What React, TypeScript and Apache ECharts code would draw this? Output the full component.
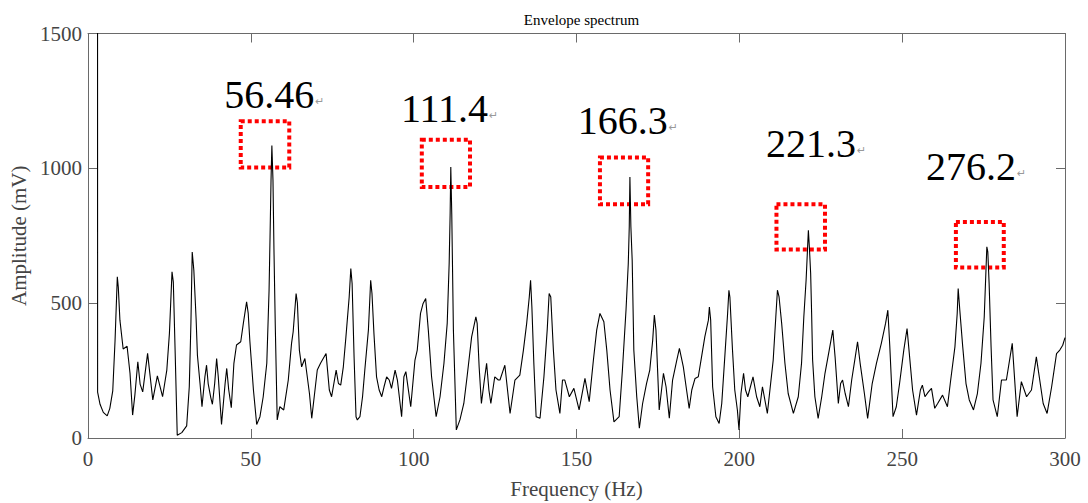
import React, { useEffect, useRef } from "react";
import * as echarts from "echarts";

// Frequency (Hz) and amplitude (mV)
const freq: number[] = [
  2.9, 2.95, 3.7, 4.7, 5.9, 6.7, 7.6, 8.3, 9.0, 9.3, 9.8, 10.8, 12.0, 12.9, 13.7, 14.4, 15.3, 16.0, 16.8, 18.3,
  19.9, 21.3, 22.9, 24.2, 25.0, 25.8, 26.2, 26.8, 27.4, 28.8, 30.3, 31.1, 31.6, 32.0, 32.5, 33.2, 33.6, 34.4, 35.0, 35.9,
  36.4, 36.9, 37.7, 38.2, 38.9, 39.5, 40.0, 41.0, 42.1, 42.6, 43.2, 44.0, 44.8, 45.6, 46.9, 47.7, 48.7, 49.2, 49.7, 50.8,
  51.8, 52.8, 53.8, 54.9, 55.6, 55.9, 56.2, 56.46, 56.8, 57.1, 57.5, 58.1, 58.9, 60.1, 61.5, 62.5, 63.0, 63.9, 64.3, 64.9,
  65.6, 66.6, 68.0, 68.7, 69.7, 70.4, 71.4, 73.1, 74.1, 74.8, 76.2, 76.9, 77.6, 78.4, 79.2, 80.2, 80.7, 81.1, 81.7, 82.3,
  82.7, 83.5, 84.3, 85.0, 86.1, 86.8, 87.2, 87.8, 88.6, 89.4, 90.2, 90.9, 91.7, 92.5, 93.2, 94.3, 95.0, 96.3, 97.0, 97.6,
  99.1, 100.4, 101.1, 102.1, 102.9, 103.7, 104.5, 105.5, 106.9, 108.1, 109.3, 110.3, 110.9, 111.2, 111.4, 111.7, 112.2, 113.1, 114.2, 115.4,
  116.4, 117.8, 119.1, 119.5, 120.1, 120.8, 121.7, 122.4, 123.1, 123.7, 124.9, 126.0, 126.5, 128.0, 129.6, 131.1, 132.6, 133.7, 134.7, 135.5,
  135.9, 136.3, 136.9, 137.6, 138.8, 140.0, 141.0, 141.6, 142.1, 142.9, 143.7, 144.9, 145.7, 146.4, 147.8, 149.2, 150.8, 152.6, 153.9, 155.2,
  156.2, 157.2, 158.4, 159.3, 160.3, 161.5, 163.1, 164.1, 165.2, 165.9, 166.2, 166.4, 166.7, 167.1, 167.6, 168.5, 169.3, 170.3, 171.5, 172.5,
  173.4, 173.9, 174.4, 175.4, 176.7, 177.5, 178.5, 179.5, 180.8, 181.6, 182.8, 183.8, 184.6, 185.4, 186.4, 187.4, 188.4, 189.4, 190.5, 190.8,
  191.2, 191.8, 192.8, 193.8, 194.6, 195.6, 196.4, 196.8, 197.1, 197.9, 198.6, 199.4, 199.9, 200.5, 201.3, 201.9, 202.6, 204.2, 205.3, 206.3,
  207.1, 208.6, 210.4, 211.2, 211.7, 212.2, 213.0, 214.0, 215.0, 216.6, 218.1, 219.1, 219.8, 220.5, 221.2, 221.5, 221.9, 222.2, 222.5, 223.2,
  224.2, 225.3, 226.3, 227.6, 228.7, 229.4, 230.4, 231.1, 231.7, 232.5, 233.5, 234.5, 235.6, 236.3, 237.1, 238.4, 239.4, 240.8, 242.1, 243.6,
  244.9, 245.6, 246.2, 247.2, 248.2, 249.2, 250.5, 251.5, 252.1, 253.2, 254.4, 255.6, 256.2, 257.0, 258.0, 259.0, 260.0, 260.9, 262.4, 263.9,
  264.9, 266.2, 266.9, 267.2, 267.7, 268.6, 269.6, 270.6, 271.9, 273.1, 274.2, 275.2, 276.0, 276.3, 276.7, 277.3, 277.9, 279.2, 280.5, 282.0,
  283.8, 285.3, 286.6, 288.2, 289.7, 291.2, 293.3, 294.5, 295.9, 297.4, 298.4, 299.3, 300.0,
];

const amplitude: number[] = [
  4000, 170, 125, 95, 82, 110, 175, 360, 598, 560, 437, 330, 340, 240, 85, 160, 283, 200, 171, 314,
  141, 230, 153, 252, 388, 616, 578, 300, 10, 20, 45, 190, 425, 690, 622, 440, 307, 202, 116, 227,
  270, 202, 150, 125, 202, 295, 227, 50, 202, 258, 180, 112, 277, 345, 357, 425, 505, 462, 360, 178,
  50, 79, 153, 277, 548, 746, 956, 1085, 956, 700, 420, 67, 116, 104, 215, 351, 394, 536, 500, 326,
  264, 295, 165, 73, 178, 252, 277, 313, 178, 153, 252, 202, 196, 264, 375, 523, 628, 573, 301, 79,
  67, 79, 153, 252, 400, 585, 536, 388, 227, 178, 153, 190, 227, 215, 184, 252, 215, 79, 227, 246,
  116, 289, 326, 462, 499, 517, 400, 227, 79, 153, 277, 425, 647, 832, 1005, 830, 400, 30, 67, 128,
  227, 375, 449, 425, 264, 128, 215, 277, 178, 128, 227, 215, 215, 270, 91, 215, 233, 326, 425, 523,
  585, 486, 277, 79, 73, 227, 400, 536, 523, 326, 178, 91, 215, 215, 153, 184, 104, 221, 135, 290,
  400, 462, 431, 326, 178, 60, 79, 252, 474, 647, 783, 968, 783, 659, 326, 153, 36, 128, 202, 252,
  363, 456, 400, 104, 240, 190, 73, 215, 289, 332, 264, 178, 110, 178, 221, 227, 301, 375, 437, 486,
  437, 190, 79, 54, 128, 313, 462, 548, 523, 326, 178, 104, 30, 165, 240, 178, 153, 227, 153, 116,
  190, 91, 289, 449, 548, 523, 425, 277, 165, 91, 153, 277, 449, 585, 770, 709, 610, 462, 289, 153,
  73, 153, 240, 326, 400, 301, 128, 202, 215, 165, 116, 215, 301, 357, 277, 165, 73, 202, 277, 351,
  425, 474, 340, 79, 116, 202, 326, 406, 326, 178, 85, 178, 196, 153, 170, 184, 110, 128, 159, 116,
  215, 338, 462, 554, 474, 338, 202, 141, 104, 165, 277, 449, 709, 690, 573, 338, 141, 79, 215, 215,
  351, 79, 209, 153, 178, 301, 128, 91, 190, 313, 326, 344, 372,
];

// Annotated peaks: label text, label anchor (freq, amp), box corners
const peakLabels: string[] = ["56.46", "111.4", "166.3", "221.3", "276.2"];
const labelFreq: number[] = [41.8, 96.1, 150.4, 208.2, 257.3];
const labelAmp: number[] = [1275, 1221, 1179, 1091, 1005];
const boxFreqStart: number[] = [46.9, 102.5, 157.2, 211.4, 266.5];
const boxFreqEnd: number[] = [61.8, 117.3, 172.0, 226.3, 281.2];
const boxAmpTop: number[] = [1175, 1106, 1040, 867, 801];
const boxAmpBottom: number[] = [1003, 931, 867, 699, 632];

const xTicks = { min: 0, max: 300, interval: 50 };
const yTicks = { min: 0, max: 1500, interval: 500 };

const SERIF = "'Liberation Serif', 'Times New Roman', serif";
const AXIS_COLOR = "#6a6a6a";
const LABEL_COLOR = "#444";

export default function App() {
  const ref = useRef<HTMLDivElement>(null);

  useEffect(() => {
    if (!ref.current) return;
    const chart = echarts.init(ref.current, null, { renderer: "svg" });
    const lineData = freq.map((f, i) => [f, amplitude[i]]);

    const tickStyle = { show: true, inside: true, length: 9, lineStyle: { color: AXIS_COLOR, width: 1 } };
    const axisLine = { show: true, onZero: false, lineStyle: { color: AXIS_COLOR, width: 1 } };
    const plain = (v: number) => String(v);

    chart.setOption({
      animation: false,
      backgroundColor: "#ffffff",
      title: {
        text: "Envelope spectrum",
        left: 576.5,
        top: 7,
        textAlign: "center",
        textStyle: { fontFamily: SERIF, fontSize: 15, fontWeight: "normal", color: "#000" },
      },
      grid: {
        left: 88,
        right: 23,
        top: 33.5,
        bottom: 65,
        containLabel: false,
        outerBoundsMode: "none",
      },
      xAxis: [
        {
          type: "value",
          position: "bottom",
          ...xTicks,
          axisLine,
          axisTick: tickStyle,
          splitLine: { show: false },
          axisLabel: { color: LABEL_COLOR, fontFamily: SERIF, fontSize: 21, margin: 10, formatter: plain },
          name: "Frequency (Hz)",
          nameLocation: "middle",
          nameGap: 40,
          nameTextStyle: { color: LABEL_COLOR, fontFamily: SERIF, fontSize: 21 },
        },
        {
          type: "value",
          position: "top",
          ...xTicks,
          axisLine,
          axisTick: tickStyle,
          splitLine: { show: false },
          axisLabel: { show: false },
        },
      ],
      yAxis: [
        {
          type: "value",
          position: "left",
          ...yTicks,
          axisLine,
          axisTick: tickStyle,
          splitLine: { show: false },
          axisLabel: { color: LABEL_COLOR, fontFamily: SERIF, fontSize: 21, margin: 6, formatter: plain },
          name: "Amplitude (mV)",
          nameLocation: "middle",
          nameGap: 55,
          nameTextStyle: { color: LABEL_COLOR, fontFamily: SERIF, fontSize: 21 },
        },
        {
          type: "value",
          position: "right",
          ...yTicks,
          axisLine,
          axisTick: tickStyle,
          splitLine: { show: false },
          axisLabel: { show: false },
        },
      ],
      series: [
        {
          type: "line",
          xAxisIndex: 0,
          yAxisIndex: 0,
          data: lineData,
          showSymbol: false,
          symbol: "none",
          clip: true,
          lineStyle: { color: "#000", width: 1.1 },
          markArea: {
            silent: true,
            itemStyle: {
              color: "rgba(0,0,0,0)",
              borderColor: "#ff0000",
              borderWidth: 4,
              borderType: [4, 3],
            },
            data: peakLabels.map((_, i) => [
              { coord: [boxFreqStart[i], boxAmpTop[i]] },
              { coord: [boxFreqEnd[i], boxAmpBottom[i]] },
            ]),
          },
          markPoint: {
            silent: true,
            symbol: "circle",
            symbolSize: 0,
            data: peakLabels.map((t, i) => ({
              coord: [labelFreq[i], labelAmp[i]],
              value: t,
            })),
            label: {
              show: true,
              position: "right",
              distance: 0,
              formatter: (p: any) => `{n|${p.value}}{r|↵}`,
              rich: {
                n: { fontFamily: SERIF, fontSize: 40, color: "#000" },
                r: { fontFamily: "'DejaVu Sans', sans-serif", fontSize: 11, color: "#999", padding: [14, 0, 0, 1] },
              },
            },
          },
        },
      ],
    });

    return () => chart.dispose();
  }, []);

  return (
    <div
      ref={ref}
      style={{ position: "fixed", left: 0, top: 0, width: 1088, height: 503, background: "#fff" }}
    />
  );
}
